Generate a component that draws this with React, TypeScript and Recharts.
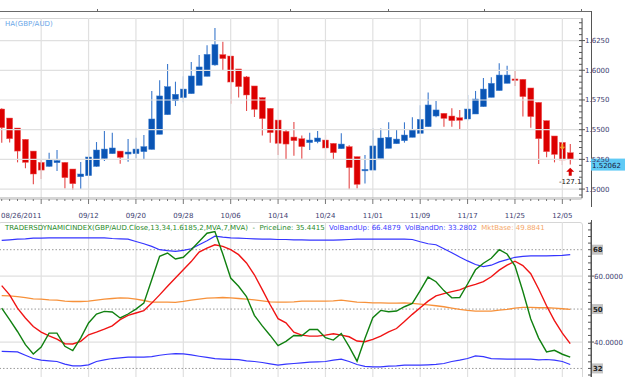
import React from "react";
import { Bar, ComposedChart, Line, ReferenceDot, ReferenceLine, XAxis, YAxis } from "recharts";

// Heikin Ashi candles, GBP/AUD daily
const OPEN = [
  1.5674, 1.5598, 1.5514, 1.5419, 1.532, 1.5225, 1.5191, 1.5222, 1.5225, 1.5169,
  1.5104, 1.5113, 1.5191, 1.5256, 1.5298, 1.532, 1.5295, 1.5298, 1.5315, 1.5334,
  1.5461, 1.5626, 1.5744, 1.577, 1.5803, 1.5873, 1.5949, 1.6045, 1.6132, 1.612,
  1.6011, 1.5944, 1.5868, 1.577, 1.568, 1.5581, 1.5486, 1.5438, 1.5424, 1.5391,
  1.5399, 1.5413, 1.5385, 1.534, 1.5357, 1.5273, 1.5158, 1.516, 1.5259, 1.5343,
  1.5382, 1.5407, 1.5436, 1.5469, 1.5525, 1.5615, 1.5638, 1.5615, 1.5601, 1.559,
  1.5632, 1.5694, 1.5772, 1.5829, 1.589, 1.5927, 1.5924, 1.5851, 1.573, 1.5576,
  1.5447, 1.5393, 1.5306,
];
const HIGH = [
  1.568, 1.5598, 1.5514, 1.5419, 1.532, 1.525, 1.5306, 1.5329, 1.5225, 1.5169,
  1.5228, 1.5413, 1.5396, 1.5489, 1.5475, 1.532, 1.5421, 1.5433, 1.5455, 1.5826,
  1.5916, 1.6053, 1.5904, 1.5949, 1.607, 1.6129, 1.621, 1.6356, 1.6241, 1.612,
  1.6011, 1.5952, 1.5868, 1.577, 1.568, 1.5581, 1.5503, 1.5565, 1.5452, 1.5475,
  1.5489, 1.5455, 1.5385, 1.5469, 1.5368, 1.5273, 1.5287, 1.5509, 1.5509, 1.5562,
  1.5497, 1.5562, 1.5604, 1.5705, 1.5812, 1.5741, 1.5638, 1.568, 1.5666, 1.5792,
  1.5826, 1.5935, 1.5941, 1.6059, 1.6039, 1.5994, 1.5924, 1.5851, 1.573, 1.5576,
  1.5447, 1.5393, 1.5379,
];
const LOW = [
  1.5391, 1.5393, 1.5225, 1.5175, 1.504, 1.5085, 1.5188, 1.5152, 1.5006, 1.4992,
  1.5, 1.5113, 1.5188, 1.5236, 1.5298, 1.5214, 1.5231, 1.5259, 1.5247, 1.5334,
  1.5461, 1.5626, 1.5699, 1.573, 1.5803, 1.5873, 1.5949, 1.6039, 1.5997, 1.5719,
  1.577, 1.5657, 1.5607, 1.545, 1.5391, 1.5287, 1.5247, 1.5281, 1.5256, 1.5329,
  1.5385, 1.5239, 1.525, 1.534, 1.4998, 1.5006, 1.5048, 1.516, 1.5259, 1.5343,
  1.5382, 1.5391, 1.5436, 1.5469, 1.5525, 1.5604, 1.5525, 1.5525, 1.5503, 1.5576,
  1.5632, 1.5694, 1.5772, 1.5829, 1.589, 1.5868, 1.561, 1.5517, 1.5211, 1.5267,
  1.5225, 1.5203, 1.5208,
];
const CLOSE = [
  1.5517, 1.5424, 1.532, 1.5225, 1.5127, 1.516, 1.525, 1.5239, 1.5096, 1.5045,
  1.5127, 1.527, 1.5329, 1.5337, 1.5346, 1.5267, 1.5312, 1.5337, 1.5357, 1.559,
  1.5784, 1.5862, 1.5798, 1.5842, 1.5952, 1.6028, 1.6134, 1.6216, 1.6098, 1.5901,
  1.5862, 1.5792, 1.5671, 1.5593, 1.5475, 1.5385, 1.5379, 1.5407, 1.5357, 1.5413,
  1.543, 1.5346, 1.5306, 1.5379, 1.518, 1.504, 1.5166, 1.5363, 1.543, 1.5436,
  1.5421, 1.5455, 1.5497, 1.5587, 1.5708, 1.5666, 1.5595, 1.5576, 1.5579, 1.5674,
  1.5758, 1.5842, 1.589, 1.596, 1.596, 1.5918, 1.5778, 1.561, 1.5424, 1.5315,
  1.5292, 1.5245, 1.525,
];

// Traders Dynamic Index
const PRICE_LINE = [
  50.3, 46.8, 43.2, 39.2, 36.4, 38.5, 42.7, 42.7, 38.7, 37.4,
  41.2, 45.8, 48.5, 49.3, 49.1, 47.3, 48.5, 50.0, 51.8, 58.9,
  66.0, 67.0, 65.2, 65.7, 68.0, 70.5, 73.0, 73.5, 66.7, 59.4,
  56.9, 53.8, 48.1, 44.9, 42.0, 38.9, 40.2, 42.0, 41.9, 43.8,
  43.8, 41.3, 40.6, 42.6, 38.6, 34.2, 41.1, 47.4, 49.6, 49.2,
  49.4, 50.7, 51.7, 55.6, 59.7, 58.3, 55.6, 53.4, 53.5, 57.6,
  61.9, 63.9, 65.4, 68.0, 66.7, 63.1, 55.4, 47.0, 41.2, 37.0,
  37.5, 36.3, 35.4,
];
const SIGNAL_LINE = [
  57.1, 54.3, 50.3, 47.3, 44.7, 43.0, 41.9, 40.9, 39.5, 39.4,
  40.2, 42.2, 43.0, 43.9, 44.9, 46.8, 48.1, 48.8, 49.5, 51.8,
  54.3, 56.9, 59.4, 61.9, 64.4, 67.3, 68.5, 69.5, 69.0, 68.0,
  66.5, 64.0, 60.4, 55.9, 51.3, 47.1, 45.8, 43.0, 42.1, 41.8,
  41.8, 42.1, 42.5, 42.1, 41.6, 40.3, 40.1, 40.8, 41.8, 43.1,
  44.1, 46.2, 48.4, 50.4, 52.4, 54.0, 54.7, 55.3, 55.8, 56.8,
  57.5, 58.3, 59.8, 61.8, 63.3, 64.5, 63.2, 60.7, 56.1, 51.0,
  46.5, 42.7, 39.5,
];
const VOL_BAND_UP = [
  70.8, 71.0, 71.2, 71.3, 71.5, 71.5, 71.6, 71.6, 71.6, 71.6,
  71.6, 71.6, 71.6, 71.6, 71.4, 71.3, 71.2, 70.5, 69.8, 69.0,
  68.0, 67.7, 67.5, 67.8, 68.3, 69.5, 70.7, 72.1, 71.8, 71.6,
  71.5, 71.4, 71.3, 71.2, 71.2, 71.1, 71.1, 71.0, 71.0, 70.9,
  70.9, 70.9, 70.9, 71.0, 71.1, 71.2, 71.2, 71.2, 71.2, 71.2,
  71.2, 71.2, 71.1, 70.4, 69.8, 69.5, 68.3, 67.1, 65.8, 64.6,
  63.5, 62.9, 63.3, 64.3, 65.0, 65.7, 66.0, 66.1, 66.1, 66.1,
  66.2, 66.3, 66.5,
];
const VOL_BAND_DN = [
  37.2, 37.1, 37.0, 36.0, 35.0, 34.5, 34.3, 34.1, 33.3, 32.8,
  32.8, 33.1, 34.1, 34.6, 35.0, 35.2, 35.4, 35.4, 35.4, 35.6,
  36.0, 36.3, 36.5, 36.4, 36.1, 35.7, 35.35, 34.95, 34.85, 34.75,
  34.65, 34.3, 34.1, 33.8, 33.4, 33.0, 33.3, 33.5, 33.7, 33.9,
  34.0, 34.1, 34.5, 34.8, 34.1, 33.2, 32.6, 32.5, 32.5, 32.7,
  32.8, 33.0, 33.0, 33.0, 33.1, 33.2, 33.5, 34.1, 34.5, 35.0,
  35.8, 35.6, 35.0, 34.9, 34.8, 34.8, 34.8, 34.8, 34.6, 34.7,
  34.5, 34.1, 33.2,
];
const MKT_BASE = [
  54.1, 54.0, 53.8, 53.5, 53.1, 53.0, 52.8, 52.7, 52.4, 52.3,
  52.3, 52.4, 52.7, 53.0, 53.2, 53.4, 53.3, 53.0, 52.6, 52.1,
  52.1, 52.1, 52.0, 52.3, 52.7, 53.0, 53.3, 53.4, 53.5, 53.4,
  53.2, 53.0, 52.8, 52.5, 52.2, 52.1, 52.1, 52.2, 52.4, 52.4,
  52.4, 52.4, 52.5, 52.7, 52.4, 52.1, 52.0, 51.9, 51.9, 51.8,
  51.8, 51.9, 51.7, 51.5, 51.3, 51.0, 50.7, 50.3, 49.9, 49.6,
  49.4, 49.4, 49.4, 49.7, 49.9, 50.3, 50.5, 50.5, 50.4, 50.4,
  50.3, 50.1, 49.9,
];

const DATE_TICKS = [5, 11, 17, 23, 29, 35, 41, 47, 53, 59, 65, 71];
const DATE_LABELS = ["08/26/2011", "09/12", "09/20", "09/28", "10/06", "10/14", "10/24", "11/01", "11/09", "11/17", "11/25", "12/05"];
const PRICE_TICKS = [1.5, 1.525, 1.55, 1.575, 1.6, 1.625];
const TDI_LEVELS = [32, 50, 68];
const TDI_GRID = [40, 60];
const LAST_PRICE = 1.52062;
const SIGNAL_BAR = 72;
const SIGNAL_PRICE = 1.5146;
const SIGNAL_TEXT = "-127.1";
const WARN_BAR = 71;
const WARN_PRICE = 1.5357;

const W = 625;
const X_DOMAIN = [-0.215, 73.49];
const NAVY = "#3d3d70";
const RED = "#dc0000";
const BLUE = "#0a55b5";
const GRID = "#e0e0e0";

const candles = OPEN.map((o, i) => ({ i, o, c: CLOSE[i], hi: HIGH[i], lo: LOW[i], range: [LOW[i], HIGH[i]] }));
const tdi = PRICE_LINE.map((g, i) => ({ i, g, r: SIGNAL_LINE[i], up: VOL_BAND_UP[i], dn: VOL_BAND_DN[i], mb: MKT_BASE[i] }));
const barTicks = candles.map((d) => d.i);
const priceTicks: number[] = [];
for (let v = 1495; v <= 1640; v += 5) priceTicks.push(v / 1000);
const tdiTicks: number[] = [];
for (let v = 30; v <= 76; v += 2) tdiTicks.push(v);

function Candle(props: any) {
  const { x, y, width, height, payload } = props;
  if (!payload || x == null) return null;
  const top = Math.min(y, y + height);
  const h = Math.abs(height);
  const span = payload.hi - payload.lo || 1;
  const py = (v: number) => top + ((payload.hi - v) / span) * h;
  const up = payload.c >= payload.o;
  const col = up ? BLUE : RED;
  const bt = py(Math.max(payload.o, payload.c));
  const bb = py(Math.min(payload.o, payload.c));
  const cx = x + width / 2;
  return (
    <g>
      <line x1={cx} x2={cx} y1={top} y2={top + h} stroke={up ? "#3a78cc" : "#e44848"} strokeWidth={1.1} />
      <rect x={x} y={bt} width={width} height={Math.max(1.5, bb - bt)} fill={col} stroke={up ? "#3f7fd0" : "#f05a5a"} strokeWidth={0.5} />
    </g>
  );
}

function DateTick(props: any) {
  const { x, y, payload } = props;
  const k = DATE_TICKS.indexOf(payload.value);
  return (
    <g>
      <line x1={x} x2={x} y1={y + 1} y2={y + (k >= 0 ? 6 : 3)} stroke="#777" />
      {k >= 0 && (
        <text x={k === 0 ? 1 : x} y={y + 20} textAnchor={k === 0 ? "start" : "middle"} fontSize={7} fill={NAVY}>
          {DATE_LABELS[k]}
        </text>
      )}
    </g>
  );
}

function PriceTick(props: any) {
  const { x, y, payload } = props;
  const v = payload.value;
  const major = PRICE_TICKS.some((t) => Math.abs(t - v) < 1e-6);
  return (
    <g>
      <line x1={x - 3} x2={major ? x + 3 : x} y1={y} y2={y} stroke="#555" />
      {major && (
        <text x={x + 3} y={y + 2.5} fontSize={7} fill={NAVY}>{v.toFixed(4)}</text>
      )}
    </g>
  );
}

function TdiTick(props: any) {
  const { x, y, payload } = props;
  const v = payload.value;
  if (TDI_LEVELS.includes(v)) {
    return (
      <g>
        <line x1={x - 3} x2={x} y1={y} y2={y} stroke="#555" />
        <rect x={x + 1} y={y - 5} width={11} height={10} fill="#c4c4c4" />
        <text x={x + 2} y={y + 2.5} fontSize={7} fontWeight="bold" fill="#222">{v}</text>
      </g>
    );
  }
  if (TDI_GRID.includes(v)) {
    return (
      <g>
        <line x1={x - 3} x2={x + 3} y1={y} y2={y} stroke="#555" />
        <text x={x + 3} y={y + 2.5} fontSize={7} fill={NAVY}>{v.toFixed(4)}</text>
      </g>
    );
  }
  return <line x1={x - 3} x2={x} y1={y} y2={y} stroke="#555" />;
}

function LastPriceLabel(props: any) {
  const vb = props.viewBox || {};
  const x = vb.x + vb.width + 9;
  const y = vb.y;
  return (
    <g>
      <rect x={x} y={y - 6} width={34} height={12} fill="#5fcaf5" />
      <text x={x + 1} y={y + 3} fontSize={7} fill="#1a1a40">{LAST_PRICE.toFixed(5)}</text>
    </g>
  );
}

function SignalArrow(props: any) {
  const { cx, cy } = props;
  return (
    <g>
      <path d={`M${cx} ${cy - 4} L${cx + 4} ${cy} L${cx + 1.5} ${cy} L${cx + 1.5} ${cy + 4} L${cx - 1.5} ${cy + 4} L${cx - 1.5} ${cy} L${cx - 4} ${cy} Z`} fill="#d80000" />
      <text x={cx} y={cy + 12} textAnchor="middle" fontSize={7} fill="#111">{SIGNAL_TEXT}</text>
    </g>
  );
}

function WarnArrow(props: any) {
  const { cx, cy } = props;
  return (
    <path d={`M${cx} ${cy + 3} L${cx + 3} ${cy} L${cx + 1} ${cy} L${cx + 1} ${cy - 3} L${cx - 1} ${cy - 3} L${cx - 1} ${cy} L${cx - 3} ${cy} Z`} fill="#f0a030" />
  );
}

export default function App() {
  return (
    <div style={{ position: "absolute", left: 0, top: 0, width: W, height: 377, overflow: "hidden", background: "#fff", fontFamily: "'DejaVu Sans', sans-serif" }}>
      <svg width={W} height={377} style={{ position: "absolute", left: 0, top: 0 }}>
        <line x1={0} x2={591} y1={11.5} y2={11.5} stroke="#6a6a6a" />
        {[97, 193, 290, 388, 484, 581].map((t) => (
          <line key={t} x1={t + 0.5} x2={t + 0.5} y1={9} y2={12} stroke="#6a6a6a" />
        ))}
        <line x1={591.5} x2={591.5} y1={11} y2={207} stroke="#555" />
        <line x1={591.5} x2={591.5} y1={220} y2={377} stroke="#555" />
      </svg>
      <div style={{ position: "absolute", left: -2, top: 18, width: 583, height: 180, border: "1px solid #d6d6d6", borderRadius: 3 }} />
      <div style={{ position: "absolute", left: -2, top: 222, width: 583, height: 170, border: "1px solid #d6d6d6", borderRadius: 3 }} />

      <div style={{ position: "absolute", left: 0, top: 0 }}>
        <ComposedChart width={W} height={222} data={candles} margin={{ top: 18, right: 0, bottom: 0, left: 0 }}>
          <XAxis
            dataKey="i"
            type="number"
            domain={X_DOMAIN}
            allowDataOverflow
            ticks={barTicks}
            interval={0}
            tickSize={0}
            tickMargin={0}
            tick={<DateTick />}
            axisLine={{ stroke: "#aaa" }}
            height={24}
          />
          <YAxis yAxisId="pad" orientation="right" width={9} domain={[1.4925, 1.644]} tick={false} axisLine={false} tickLine={false} />
          <YAxis
            yAxisId="p"
            orientation="right"
            width={34}
            domain={[1.4925, 1.644]}
            allowDataOverflow
            ticks={priceTicks}
            interval={0}
            tickSize={0}
            tickMargin={0}
            tick={<PriceTick />}
            axisLine={{ stroke: "#555" }}
          />
          {DATE_TICKS.map((t) => (
            <ReferenceLine key={"v" + t} yAxisId="p" x={t} stroke={GRID} strokeWidth={1.2} />
          ))}
          {PRICE_TICKS.map((t) => (
            <ReferenceLine key={"h" + t} yAxisId="p" y={t} stroke={GRID} strokeWidth={1.2} />
          ))}
          <Bar dataKey="range" yAxisId="p" barSize={6} shape={(p: any) => <Candle {...p} />} isAnimationActive={false} />
          <ReferenceLine yAxisId="p" y={LAST_PRICE} stroke="none" ifOverflow="visible" label={<LastPriceLabel />} />
          <ReferenceDot yAxisId="p" x={WARN_BAR} y={WARN_PRICE} r={3} shape={<WarnArrow />} ifOverflow="visible" />
          <ReferenceDot yAxisId="p" x={SIGNAL_BAR} y={SIGNAL_PRICE} r={4} shape={<SignalArrow />} ifOverflow="visible" />
        </ComposedChart>
      </div>
      <div style={{ position: "absolute", left: 5, top: 20, fontSize: 7, color: "#6aa6e8" }}>HA(GBP/AUD)</div>

      <div style={{ position: "absolute", left: 0, top: 222 }}>
        <ComposedChart width={W} height={155} data={tdi} margin={{ top: 0, right: 0, bottom: 0, left: 0 }}>
          <XAxis dataKey="i" type="number" domain={X_DOMAIN} allowDataOverflow hide />
          <YAxis yAxisId="pad" orientation="right" width={9} domain={[29.4, 76.4]} tick={false} axisLine={false} tickLine={false} />
          <YAxis
            yAxisId="t"
            orientation="right"
            width={34}
            domain={[29.4, 76.4]}
            allowDataOverflow
            ticks={tdiTicks}
            interval={0}
            tickSize={0}
            tickMargin={0}
            tick={<TdiTick />}
            axisLine={{ stroke: "#555" }}
          />
          {DATE_TICKS.map((t) => (
            <ReferenceLine key={"v" + t} yAxisId="t" x={t} stroke={GRID} strokeWidth={1.2} />
          ))}
          {TDI_GRID.map((t) => (
            <ReferenceLine key={"h" + t} yAxisId="t" y={t} stroke={GRID} strokeWidth={1.2} />
          ))}
          {TDI_LEVELS.map((v) => (
            <ReferenceLine key={v} yAxisId="t" y={v} stroke="#9a9a9a" strokeDasharray="1.5 2" />
          ))}
          <Line yAxisId="t" dataKey="mb" stroke="#f7913a" strokeWidth={1.3} dot={false} isAnimationActive={false} />
          <Line yAxisId="t" dataKey="up" stroke="#3535ff" strokeWidth={1.2} dot={false} isAnimationActive={false} />
          <Line yAxisId="t" dataKey="dn" stroke="#3535ff" strokeWidth={1.2} dot={false} isAnimationActive={false} />
          <Line yAxisId="t" dataKey="r" stroke="#f01414" strokeWidth={1.4} dot={false} isAnimationActive={false} />
          <Line yAxisId="t" dataKey="g" stroke="#108010" strokeWidth={1.4} dot={false} isAnimationActive={false} />
        </ComposedChart>
      </div>
      <div style={{ position: "absolute", left: 5, top: 224, fontSize: 7, whiteSpace: "nowrap", lineHeight: "9px" }}>
        <span style={{ color: "#1f8a1f" }}>TRADERSDYNAMICINDEX(GBP/AUD.Close,13,34,1.6185,2,MVA,7,MVA)&nbsp; - &nbsp;PriceLine: 35.4415</span>
        <span style={{ color: "#3a3aff" }}>&nbsp;&nbsp;VolBandUp: 66.4879&nbsp;&nbsp;VolBandDn: 33.2802</span>
        <span style={{ color: "#f5a868" }}>&nbsp;&nbsp;MktBase: 49.8841</span>
      </div>
    </div>
  );
}
